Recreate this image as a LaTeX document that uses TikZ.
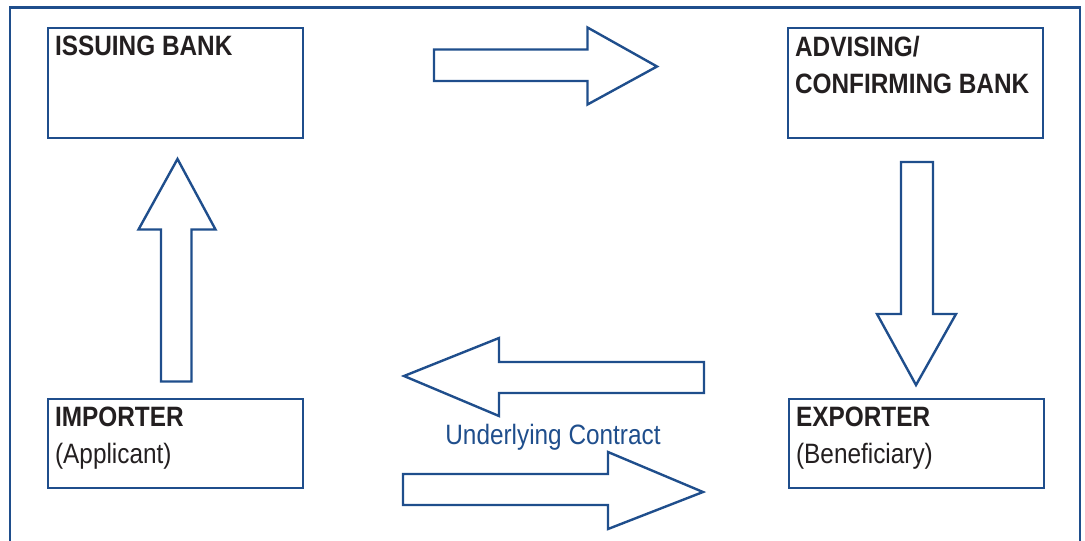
\documentclass[tikz,border=0pt]{standalone}
\usepackage{fontspec}
\setmainfont{Liberation Sans}[FakeStretch=0.87]
\usepackage{tikz}
\usetikzlibrary{positioning}

\definecolor{lcblue}{RGB}{31,78,140}
\definecolor{lctext}{RGB}{35,31,32}

\begin{document}
\begin{tikzpicture}[
            x = 0.5pt, y = -0.5pt, % one unit = one pixel of the page
            line join = miter,
            font = \fontsize{14}{18.5}\selectfont
        ]

        \tikzstyle{box}=[
            draw = lcblue,
            line width = 1.3pt,
            minimum width = 127.5pt,
            inner sep = 0pt
        ]
        \tikzstyle{title}=[
            anchor = north west,
            align = left,
            text = lctext,
            inner xsep = 4pt,
            inner ysep = 4.6pt
        ]
        \tikzstyle{blockarrow}=[
            draw = lcblue,
            line width = 1.2pt
        ]

        \clip (0,0) rectangle (1085,540);

        % outer frame, open at the bottom
        \draw[lcblue, line width = 1.3pt] (10,560) -- (10,7.5) -- (1080,7.5) -- (1080,560);

        % the four parties
        \node[box, minimum height = 55pt] (iss) at (175.5,83) {};
        \node[box, minimum height = 55pt] (adv) at (915.5,83) {};
        \node[box, minimum height = 44.5pt] (imp) at (175.5,443.5) {};
        \node[box, minimum height = 44.5pt] (exp) at (916.5,443.5) {};

        \node[title] (isstxt) at (iss.north west) {\bfseries ISSUING BANK};
        \node[title] (advtxt) at (adv.north west) {\bfseries ADVISING/\\\bfseries CONFIRMING BANK};
        \node[title] (imptxt) at (imp.north west) {\bfseries IMPORTER\\(Applicant)};
        \node[title] (exptxt) at (exp.north west) {\bfseries EXPORTER\\(Beneficiary)};

        % block arrows
        \draw[blockarrow] (434,49.5) -- (587.5,49.5) -- (587.5,27.5) -- (657,66.5)
            -- (587.5,104.5) -- (587.5,81) -- (434,81) -- cycle;
        \draw[blockarrow] (161,381.5) -- (161,229.5) -- (138.5,229.5) -- (177.5,159)
            -- (215.5,229.5) -- (191.5,229.5) -- (191.5,381.5) -- cycle;
        \draw[blockarrow] (901,162) -- (933,162) -- (933,314) -- (956,314) -- (916,385)
            -- (877,314) -- (901,314) -- cycle;
        \draw[blockarrow] (704,362) -- (499,362) -- (499,338) -- (404,376) -- (499,416)
            -- (499,393) -- (704,393) -- cycle;
        \draw[blockarrow] (403,474) -- (608,474) -- (608,452) -- (703,492) -- (608,529)
            -- (608,505) -- (403,505) -- cycle;

        \node[text = lcblue] (contract) at (553,437.5) {Underlying Contract};
    \end{tikzpicture}
\end{document}
